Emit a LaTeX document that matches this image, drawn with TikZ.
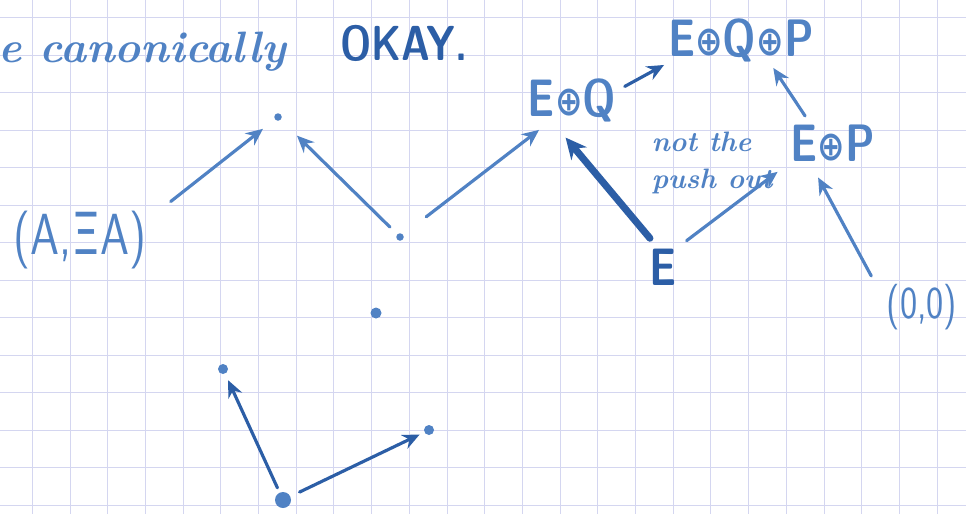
\documentclass[tikz,border=0pt]{standalone}
\usepackage{fontspec}
\usepackage{graphicx}
\newfontfamily\dv{DejaVu Sans}
\usetikzlibrary{arrows.meta}
\definecolor{ink}{RGB}{80,130,196}
\definecolor{inkdark}{RGB}{44,94,166}
\definecolor{gridc}{RGB}{212,214,240}
\newcommand\op{\raisebox{0.02em}{\scalebox{0.78}{\dv ⊕}}}
\newcommand\hw[1]{\scalebox{0.8}[1]{#1}}
\begin{document}
\begin{tikzpicture}[x=0.02cm,y=-0.02cm,
  lab/.style={text=ink, font=\sffamily\bfseries\fontsize{30}{30}\selectfont, inner sep=1pt},
  inkdot/.style={circle, fill=ink, inner sep=0pt, minimum size=#1},
  inkdot/.default=0.15cm,
  arr/.style={draw=ink, line width=1.8pt, line cap=round, -{Stealth[length=0.34cm,width=0.3cm]}},
  darr/.style={arr, draw=inkdark}]
\useasboundingbox (0,0) rectangle (966,514);
\fill[white] (0,0) rectangle (966,514);
% graph paper
\foreach \k in {0,...,25} \draw[gridc, line width=0.5pt] ({32.3+37.7*\k},0) -- ({32.3+37.7*\k},514);
\foreach \k in {0,...,13} \draw[gridc, line width=0.5pt] (0,{17.5+37.5*\k}) -- (966,{17.5+37.5*\k});
% header text
\node[lab, anchor=base west, font=\bfseries\itshape\fontsize{25}{25}\selectfont] (title) at (-4,62) {e canonically};
\node[lab, anchor=base west, text=inkdark, font=\sffamily\bfseries\fontsize{28}{28}\selectfont] (okay) at (338,60) {\scalebox{0.8}[1]{OKAY.}};
% dots
\node[inkdot] (d1) at (278,117) {};
\node[inkdot] (d2) at (400,237) {};
\node[inkdot=0.22cm] (d3) at (376,313) {};
\node[inkdot=0.2cm] (d4) at (223,369) {};
\node[inkdot=0.2cm] (d5) at (429,430) {};
\node[inkdot=0.32cm] (d6) at (283,500) {};
% labels
\node[lab, font=\sffamily\fontsize{33}{33}\selectfont] (axa) at (80,240) {\hw{(A,{\dv Ξ}A)}};
\node[lab] (eq) at (572,100) {\hw{E\op Q}};
\node[lab] (eqp) at (741,40) {\hw{E\op Q\op P}};
\node[lab] (ep) at (833,143) {\hw{E\op P}};
\node[lab, text=inkdark] (e) at (663,267) {\hw{E}};
\node[lab, font=\sffamily\fontsize{26}{26}\selectfont] (oo) at (922,307) {\hw{(0,0)}};
\node[lab, font=\bfseries\itshape\fontsize{16}{21}\selectfont, align=left] (npo) at (712,163) {not the\\push out};
% arrows
\draw[arr, shorten <=0.24cm, shorten >=0.3cm] ([xshift=0.25cm]axa.north east) -- (d1);
\draw[arr, shorten <=0.2cm, shorten >=0.45cm] (d2) -- (d1);
\draw[arr, shorten <=0.58cm, shorten >=0.2cm] (d2) -- ([xshift=-0.5cm]eq.south);
\draw[darr, shorten <=0.15cm, shorten >=0.05cm] ([yshift=0.2cm]eq.east) -- (eqp.south west);
\draw[darr, line width=4pt, shorten <=0.22cm, shorten >=0.36cm, -{Stealth[length=0.42cm,width=0.4cm]}] ([xshift=-0.12cm]e.north) -- ([xshift=-0.36cm]eq.south);
\draw[arr, shorten <=0.2cm, shorten >=0.28cm] (e.north east) -- (ep.south west);
\draw[arr, shorten <=0.16cm, shorten >=0.1cm] ([xshift=-0.47cm]ep.north) -- ([xshift=0.59cm]eqp.south);
\draw[arr, shorten <=0.14cm, shorten >=0.32cm] ([xshift=-0.2cm]oo.north west) -- ([xshift=-0.45cm]ep.south);
\draw[darr, shorten <=0.1cm, shorten >=0.14cm] (d6) -- (d4);
\draw[darr, shorten <=0.2cm, shorten >=0.1cm] (d6) -- (d5);
\end{tikzpicture}
\end{document}
